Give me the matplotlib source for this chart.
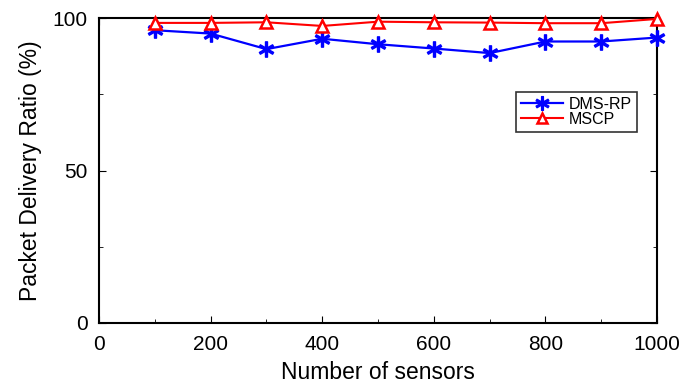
import matplotlib
matplotlib.use("Agg")
import matplotlib.pyplot as plt
from matplotlib.ticker import MultipleLocator

plt.rcParams['font.family'] = ['Liberation Sans', 'DejaVu Sans']

# Data
sensors = [100, 200, 300, 400, 500, 600, 700, 800, 900, 1000]
dms_rp = [96.0, 94.9, 89.8, 93.2, 91.4, 90.0, 88.5, 92.3, 92.3, 93.6]
mscp = [98.4, 98.4, 98.6, 97.4, 98.8, 98.6, 98.5, 98.3, 98.3, 99.7]

fig = plt.figure(figsize=(6.81, 3.9), dpi=100)
ax = fig.add_axes([0.1454, 0.1718, 0.8194, 0.782])

ax.plot(sensors, dms_rp, color='blue', marker='$\\ast$', markersize=11,
        linewidth=1.6, label='DMS-RP', clip_on=False, zorder=3)
ax.plot(sensors, mscp, color='red', marker='^', markersize=8, markerfacecolor='white',
        markeredgewidth=1.8, linewidth=1.5, label='MSCP', clip_on=False, zorder=4)

ax.set_xlim(0, 1000)
ax.set_ylim(0, 100)
ax.xaxis.set_major_locator(MultipleLocator(200))
ax.xaxis.set_minor_locator(MultipleLocator(100))
ax.yaxis.set_major_locator(MultipleLocator(50))
ax.yaxis.set_minor_locator(MultipleLocator(25))
ax.tick_params(which='both', direction='in', top=True, right=True, labelsize=15)
ax.tick_params(which='major', length=5)
ax.tick_params(which='minor', length=3)
ax.tick_params(axis='x', which='major', pad=9)
ax.tick_params(axis='y', which='major', pad=8)
for s in ax.spines.values():
    s.set_linewidth(1.5)

ax.set_xlabel('Number of sensors', fontsize=16.5, labelpad=5)
ax.set_ylabel('Packet Delivery Ratio (%)', fontsize=16.5, labelpad=8)

leg = ax.legend(loc='upper right', bbox_to_anchor=(0.964, 0.757), borderaxespad=0,
                fontsize=11.5, frameon=True, fancybox=False, edgecolor='black',
                handlelength=2.6, borderpad=0.3, labelspacing=0.0,
                handletextpad=0.4, markerscale=0.9)
leg.get_frame().set_linewidth(1.2)

fig.savefig('out.png', dpi=100)
